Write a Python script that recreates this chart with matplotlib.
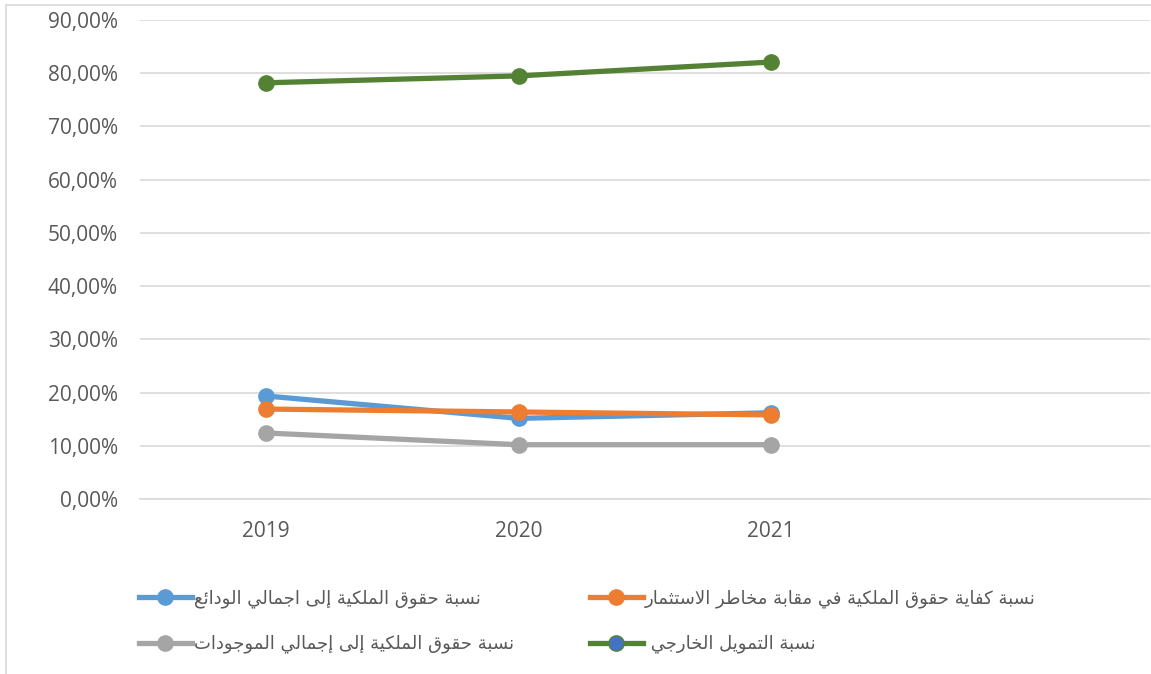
import matplotlib
matplotlib.use("Agg")
import matplotlib.pyplot as plt
from matplotlib.lines import Line2D
from matplotlib.patches import Rectangle

years = ["2019", "2020", "2021"]
deposits_ratio = [0.1935, 0.1515, 0.1620]
risk_adequacy = [0.1690, 0.1635, 0.1580]
assets_ratio = [0.1240, 0.1020, 0.1020]
external_funding = [0.7820, 0.7950, 0.8210]

labels = [
    "نسبة حقوق الملكية إلى اجمالي الودائع",
    "نسبة كفاية حقوق الملكية في مقابة مخاطر الاستثمار",
    "نسبة حقوق الملكية إلى إجمالي الموجودات",
    "نسبة التمويل الخارجي ",
]

# Arabic presentation forms: isolated, final, initial, medial
FORMS = {
    'ا': (0xFE8D, 0xFE8E, None, None), 'إ': (0xFE87, 0xFE88, None, None),
    'ب': (0xFE8F, 0xFE90, 0xFE91, 0xFE92), 'ة': (0xFE93, 0xFE94, None, None),
    'ت': (0xFE95, 0xFE96, 0xFE97, 0xFE98), 'ث': (0xFE99, 0xFE9A, 0xFE9B, 0xFE9C),
    'ج': (0xFE9D, 0xFE9E, 0xFE9F, 0xFEA0), 'ح': (0xFEA1, 0xFEA2, 0xFEA3, 0xFEA4),
    'خ': (0xFEA5, 0xFEA6, 0xFEA7, 0xFEA8), 'د': (0xFEA9, 0xFEAA, None, None),
    'ر': (0xFEAD, 0xFEAE, None, None), 'س': (0xFEB1, 0xFEB2, 0xFEB3, 0xFEB4),
    'ط': (0xFEC1, 0xFEC2, 0xFEC3, 0xFEC4), 'ع': (0xFEC9, 0xFECA, 0xFECB, 0xFECC),
    'ف': (0xFED1, 0xFED2, 0xFED3, 0xFED4), 'ق': (0xFED5, 0xFED6, 0xFED7, 0xFED8),
    'ك': (0xFED9, 0xFEDA, 0xFEDB, 0xFEDC), 'ل': (0xFEDD, 0xFEDE, 0xFEDF, 0xFEE0),
    'م': (0xFEE1, 0xFEE2, 0xFEE3, 0xFEE4), 'ن': (0xFEE5, 0xFEE6, 0xFEE7, 0xFEE8),
    'و': (0xFEED, 0xFEEE, None, None), 'ى': (0xFEEF, 0xFEF0, None, None),
    'ي': (0xFEF1, 0xFEF2, 0xFEF3, 0xFEF4), 'ئ': (0xFE89, 0xFE8A, 0xFE8B, 0xFE8C),
    'لا': (0xFEFB, 0xFEFC, None, None), 'لإ': (0xFEF9, 0xFEFA, None, None),
}


def shape(text):
    # join letters into contextual forms, then reverse for right-to-left display
    items = []
    i = 0
    while i < len(text):
        pair = text[i:i + 2]
        if pair in ('لا', 'لإ'):
            items.append(pair)
            i += 2
        else:
            items.append(text[i])
            i += 1
    out = []
    for k, it in enumerate(items):
        f = FORMS.get(it)
        if f is None:
            out.append(it)
            continue
        prev = FORMS.get(items[k - 1]) if k > 0 else None
        nxt = FORMS.get(items[k + 1]) if k + 1 < len(items) else None
        jp = prev is not None and prev[2] is not None
        jn = f[2] is not None and nxt is not None
        if jp and jn:
            code = f[3]
        elif jp:
            code = f[1]
        elif jn:
            code = f[2]
        else:
            code = f[0]
        out.append(chr(code))
    return ''.join(out)[::-1]


plt.rcParams['font.family'] = ['Open Sans', 'DejaVu Sans']

fig = plt.figure(figsize=(11.51, 6.74), dpi=100)
fig.patches.append(Rectangle((6 / 1151, -0.1), 1.2, (674 - 5) / 674 + 0.1,
                             transform=fig.transFigure, fill=False,
                             edgecolor='#D9D9D9', linewidth=1.2))
ax = fig.add_axes([140 / 1151, (674 - 499) / 674, 1010 / 1151, 479 / 674])

x = range(len(years))
series = [
    (deposits_ratio, '#5B9BD5'),
    (risk_adequacy, '#ED7D31'),
    (assets_ratio, '#A5A5A5'),
    (external_funding, '#548235'),
]
for vals, c in series:
    ax.plot(x, vals, color=c, linewidth=3.8, marker='o', markersize=11,
            solid_capstyle='round')

ax.set_xlim(-0.5, 3.5)
ax.set_ylim(0, 0.9)
ax.set_xticks(list(x))
ax.set_xticklabels(years)
yt = [i / 10 for i in range(10)]
ax.set_yticks(yt)
ax.set_yticklabels([f"{v * 100:.2f}%".replace('.', ',') for v in yt])
ax.tick_params(length=0, labelsize=15, labelcolor='#595959')
ax.tick_params(axis='y', pad=16)
ax.tick_params(axis='x', pad=16)
ax.grid(axis='y', color='#D9D9D9', linewidth=1.2)
ax.set_axisbelow(True)
for s in ['top', 'right', 'left']:
    ax.spines[s].set_visible(False)
ax.spines['bottom'].set_color('#D9D9D9')
ax.spines['bottom'].set_linewidth(1.2)

handles = [
    Line2D([], [], color='#5B9BD5', lw=3.8, marker='o', ms=11),
    Line2D([], [], color='#A5A5A5', lw=3.8, marker='o', ms=11),
    Line2D([], [], color='#ED7D31', lw=3.8, marker='o', ms=11),
    Line2D([], [], color='#548235', lw=3.8, marker='o', ms=11,
           markerfacecolor='#4472C4', markeredgecolor='#548235'),
]
leg_labels = [shape(labels[0]), shape(labels[2]), shape(labels[1]), shape(labels[3])]
leg = fig.legend(handles, leg_labels, ncol=2, loc='upper left',
                 bbox_to_anchor=(123 / 1151, 1 - 573 / 674), frameon=False,
                 handlelength=2.9, handletextpad=0.15, columnspacing=4.2,
                 labelspacing=1.5, numpoints=1,
                 prop={'family': ['DejaVu Sans'], 'size': 13})
for t in leg.get_texts():
    t.set_color('#595959')

fig.savefig('out.png', dpi=100)
